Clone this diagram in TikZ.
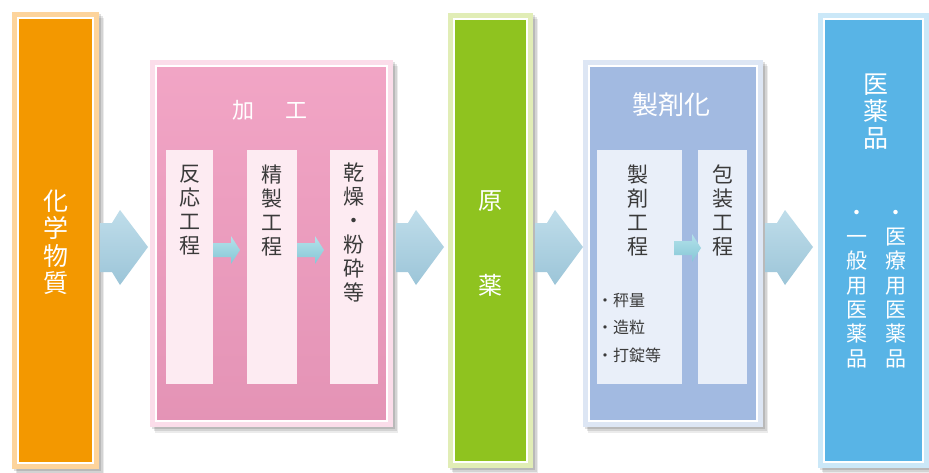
\documentclass[tikz,border=0pt]{standalone}
\usepackage{fontspec}
\setmainfont{Noto Sans CJK JP}
\usetikzlibrary{shadows,calc}
\definecolor{orangeC}{HTML}{F39800}
\definecolor{orangeB}{HTML}{FDD49C}
\definecolor{pinkC}{HTML}{F09BBF}
\definecolor{pinkB}{HTML}{FBDDEA}
\definecolor{pinkS}{HTML}{FDEBF2}
\definecolor{greenC}{HTML}{8FC31F}
\definecolor{greenB}{HTML}{E1EDB6}
\definecolor{blueC}{HTML}{A2BAE1}
\definecolor{blueB}{HTML}{DDE6F4}
\definecolor{blueS}{HTML}{E9EFF9}
\definecolor{skyC}{HTML}{58B4E6}
\definecolor{skyB}{HTML}{CBE8F8}
\definecolor{arrTop}{HTML}{BFDDEA}
\definecolor{arrBot}{HTML}{9CC5D8}
\definecolor{sarrTop}{HTML}{B3E2EA}
\definecolor{sarrBot}{HTML}{86C6D6}
\definecolor{txtD}{HTML}{3A3A3A}
\newcommand\bigarr[1]{\shade[top color=arrTop, bottom color=arrBot] #1 ++(0,-24) -- ++(12,0) -- ++(8,-13) -- ++(28,37) -- ++(-28,38) -- ++(-8,-13) -- ++(-12,0) -- cycle;}
\newcommand\smallarr[1]{\shade[top color=sarrTop, bottom color=sarrBot] #1 ++(0,-7) -- ++(18,0) -- ++(0,-7) -- ++(9,14) -- ++(-9,14) -- ++(0,-7) -- ++(-18,0) -- cycle;}
\begin{document}
\begin{tikzpicture}[x=1pt,y=-1pt,
  outerbox/.style={draw=none, inner sep=0pt, outer sep=0pt,
    drop shadow={shadow xshift=5pt, shadow yshift=-6pt, opacity=0.08, fill=black},
    drop shadow={shadow xshift=3.5pt, shadow yshift=-4pt, opacity=0.1, fill=black},
    drop shadow={shadow xshift=2pt, shadow yshift=-2pt, opacity=0.12, fill=black}},
  inbox/.style={draw=white, line width=1.2pt, inner sep=0pt, outer sep=0pt},
  subbox/.style={draw=none, inner sep=0pt, outer sep=0pt},
  wtxt/.style={text=white, align=center, inner sep=0pt},
  dtxt/.style={text=txtD, align=center, inner sep=0pt}
]
\useasboundingbox (0,0) rectangle (929,472);
\fill[white] (0,0) rectangle (929,472);

% ---- boxes ----
\node[outerbox, fill=orangeB, minimum width=87pt, minimum height=457pt] (chem) at (55.5,240.5) {};
\node[inbox, fill=orangeC, minimum width=75pt, minimum height=445pt] (chemIn) at (chem.center) {};

\node[outerbox, fill=pinkB, minimum width=243pt, minimum height=367pt] (proc) at (271.5,243.5) {};
\node[inbox, top color=pinkC!90!white, bottom color=pinkC!95!black, minimum width=231pt, minimum height=355pt] (procIn) at (proc.center) {};
\node[subbox, fill=pinkS, minimum width=47pt, minimum height=234pt] (r1) at (189.5,267) {};
\node[subbox, fill=pinkS, minimum width=50pt, minimum height=234pt] (r2) at (272,267) {};
\node[subbox, fill=pinkS, minimum width=48pt, minimum height=234pt] (r3) at (354,267) {};

\node[outerbox, fill=greenB, minimum width=85pt, minimum height=455pt] (api) at (490.5,240.5) {};
\node[inbox, fill=greenC, minimum width=73pt, minimum height=443pt] (apiIn) at (api.center) {};

\node[outerbox, fill=blueB, minimum width=180pt, minimum height=367pt] (form) at (673,243.5) {};
\node[inbox, fill=blueC, minimum width=168pt, minimum height=355pt] (formIn) at (form.center) {};
\node[subbox, fill=blueS, minimum width=85pt, minimum height=234pt] (f1) at (639.5,267) {};
\node[subbox, fill=blueS, minimum width=49pt, minimum height=234pt] (f2) at (722.5,267) {};

\node[outerbox, fill=skyB, minimum width=111pt, minimum height=455pt] (drug) at (873.5,240.5) {};
\node[inbox, fill=skyC, minimum width=99pt, minimum height=443pt] (drugIn) at (drug.center) {};

% ---- arrows ----
\coordinate (a1) at ($(chem.east)+(1,6.5)$);
\coordinate (a2) at ($(proc.east)+(3,3.5)$);
\coordinate (a3) at ($(api.east)+(2,6.5)$);
\coordinate (a4) at ($(form.east)+(2,3.5)$);
\bigarr{(a1)}
\bigarr{(a2)}
\bigarr{(a3)}
\bigarr{(a4)}
\coordinate (s1) at ($(r1.east)+(0,-17)$);
\coordinate (s2) at ($(r2.east)+(0,-17)$);
\coordinate (s3) at ($(f1.east)+(-8,-19)$);
\smallarr{(s1)}
\smallarr{(s2)}
\smallarr{(s3)}

% ---- texts ----
\node[wtxt, font=\fontsize{25}{27.5}\selectfont] (tChem) at (56,242) {化\\学\\物\\質};
\node[wtxt, font=\fontsize{22}{22}\selectfont] (tProc) at (270,110) {加\hspace{32pt}工};
\node[dtxt, font=\fontsize{21}{24}\selectfont] (t1) at (189.5,210) {反\\応\\工\\程};
\node[dtxt, font=\fontsize{21}{24}\selectfont] (t2) at (272,210) {精\\製\\工\\程};
\node[dtxt, font=\fontsize{21}{24}\selectfont] (t3) at (354,233) {乾\\燥\\・\\粉\\砕\\等};
\node[wtxt, font=\fontsize{24}{24}\selectfont] (tApi1) at (490,201) {原};
\node[wtxt, font=\fontsize{24}{24}\selectfont] (tApi2) at (490,285) {薬};
\node[wtxt, font=\fontsize{26}{26}\selectfont] (tForm) at (671,105) {製剤化};
\node[dtxt, font=\fontsize{21}{24}\selectfont] (t4) at (638,210) {製\\剤\\工\\程};
\node[dtxt, font=\fontsize{16}{27.5}\selectfont, align=left, anchor=west] (t5) at (597,328) {・秤量\\・造粒\\・打錠等};
\node[dtxt, font=\fontsize{21}{24}\selectfont] (t6) at (722.5,210) {包\\装\\工\\程};
\node[wtxt, font=\fontsize{25}{27}\selectfont] (tDrug) at (876,112) {医\\薬\\品};
\node[wtxt, font=\fontsize{21}{24.3}\selectfont] (tDrug1) at (896,289) {・\\医\\療\\用\\医\\薬\\品};
\node[wtxt, font=\fontsize{21}{24.3}\selectfont] (tDrug2) at (857,289) {・\\一\\般\\用\\医\\薬\\品};
\end{tikzpicture}
\end{document}
